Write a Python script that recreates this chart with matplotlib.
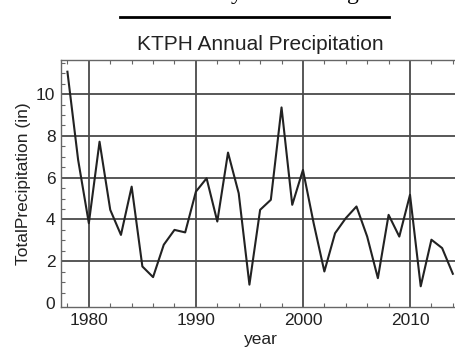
import matplotlib
matplotlib.use("Agg")
import matplotlib.pyplot as plt
from matplotlib.lines import Line2D
from matplotlib.ticker import MultipleLocator

# annual totals
years = list(range(1978, 2015))
precip = [11.07, 6.85, 3.82, 7.72, 4.46, 3.26, 5.57, 1.75, 1.24, 2.79,
          3.50, 3.38, 5.33, 5.97, 3.90, 7.20, 5.25, 0.88, 4.46, 4.94,
          9.36, 4.70, 6.37, 3.82, 1.51, 3.34, 4.06, 4.62, 3.18, 1.19,
          4.22, 3.18, 5.18, 0.80, 3.03, 2.63, 1.40]
x_major = [1980, 1990, 2000, 2010]
y_major = [0, 2, 4, 6, 8, 10]

W, H = 456, 352
fig = plt.figure(figsize=(W / 100, H / 100), dpi=100)
plt.rcParams['font.family'] = ['Liberation Sans', 'DejaVu Sans']

# axes box in pixels: left 61, top 60, bottom 307, runs past right edge
ax = fig.add_axes([61 / W, 1 - 307 / H, 399 / W, (307 - 60) / H])

grid_col = '#4a4a4a'
for xv in x_major:
    ax.axvline(xv, color=grid_col, lw=1.3, zorder=1)
for yv in y_major[1:]:
    ax.axhline(yv, color=grid_col, lw=1.3, zorder=1)

ax.plot(years, precip, color='#222222', lw=1.5, zorder=3)

ax.set_xlim(1977.4, 2014.67)
ax.set_ylim(-0.19, 11.63)
ax.set_xticks(x_major)
ax.set_yticks(y_major)
ax.xaxis.set_minor_locator(MultipleLocator(2))
ax.yaxis.set_minor_locator(MultipleLocator(0.5))
ax.tick_params(which='both', direction='in', top=True, right=False,
               colors='#666666', labelcolor='#222222')
ax.tick_params(which='major', length=0, labelsize=12.5, pad=4)
ax.tick_params(which='minor', length=3, width=0.8)

for s in ['left', 'bottom', 'top']:
    ax.spines[s].set_color('#666666')
    ax.spines[s].set_linewidth(1.0)
ax.spines['right'].set_visible(False)

ax.set_title('KTPH Annual Precipitation', fontsize=15, color='#222222', pad=7)
ax.set_ylabel('TotalPrecipitation (in)', fontsize=12.5, color='#222222', labelpad=4)
ax.set_xlabel('year', fontsize=12.5, color='#222222', labelpad=3)

# underline and clipped heading from the page above the chart
fig.add_artist(Line2D([120 / W, 389 / W], [1 - 17 / H, 1 - 17 / H],
                      color='black', lw=2))
fig.text(237 / W, 1 + 1 / H, 'y', family='Liberation Serif', fontsize=17,
         ha='center', va='baseline')
fig.text(353 / W, 1 + 1 / H, 'g', family='Liberation Serif', fontsize=17,
         ha='center', va='baseline')

fig.savefig('out.png', dpi=100)
